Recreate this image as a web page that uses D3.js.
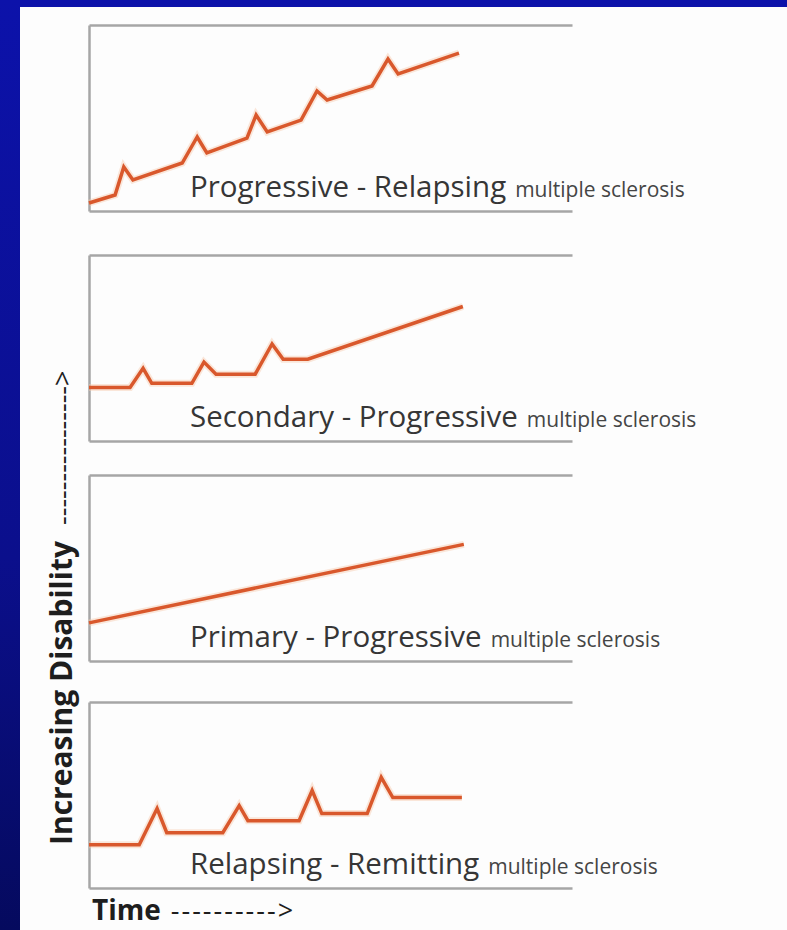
<!DOCTYPE html>
<html>
<head>
<meta charset="utf-8">
<script src="https://cdn.jsdelivr.net/npm/d3@7"></script>
<style>
  html, body { margin: 0; padding: 0; background: #0a10a0; }
  svg { display: block; }
</style>
</head>
<body>
<div id="chart"></div>
<script>
// course names, top to bottom
const courseNames = ["Progressive - Relapsing", "Secondary - Progressive", "Primary - Progressive", "Relapsing - Remitting"];
const courseSub = "multiple sclerosis";

// time (0-100) and disability (0-100)
const timePR = [0, 5.4, 7.2, 9.1, 19.3, 22.4, 24.4, 32.7, 34.6, 36.9, 43.9, 47.2, 49.3, 58.6, 61.9, 64.0, 76.6];
const disPR  = [4.3, 8.6, 23.7, 16.7, 25.8, 39.8, 31.2, 39.2, 51.6, 42.5, 48.9, 64.5, 59.7, 67.2, 81.7, 73.7, 84.9];

const timeSP = [0, 8.5, 11.2, 13.0, 21.3, 23.8, 26.3, 34.4, 37.9, 40.2, 45.3, 77.4];
const disSP  = [28.8, 28.8, 39.1, 31.0, 31.0, 42.4, 35.9, 35.9, 52.2, 44.0, 44.0, 72.3];

const timePP = [0, 77.6];
const disPP  = [20.5, 62.7];

const timeRR = [0, 10.4, 14.1, 16.1, 27.7, 31.1, 32.9, 43.5, 46.2, 48.2, 57.6, 60.5, 62.9, 77.2];
const disRR  = [23.2, 23.2, 42.7, 29.7, 29.7, 44.3, 36.2, 36.2, 52.4, 40.0, 40.0, 59.5, 48.6, 48.6];

const seriesTimes = [timePR, timeSP, timePP, timeRR];
const seriesDis = [disPR, disSP, disPP, disRR];

const yLabel = "Increasing Disability";
const yArrow = "---------------->";
const xLabel = "Time";
const xArrow = "---------->";

(function() {
  const width = 787, height = 930;
  const panelTops = [25, 255, 475, 702];
  const panelH = 186;
  const left = 89, right = 572;

  const svg = d3.select("#chart").append("svg")
    .attr("width", width)
    .attr("height", height);

  const defs = svg.append("defs");
  const grad = defs.append("linearGradient")
    .attr("id", "bg").attr("x1", 0).attr("y1", 0).attr("x2", 0).attr("y2", 1);
  grad.append("stop").attr("offset", "0%").attr("stop-color", "#0c12aa");
  grad.append("stop").attr("offset", "60%").attr("stop-color", "#0b0f8c");
  grad.append("stop").attr("offset", "100%").attr("stop-color", "#050a5e");

  svg.append("rect").attr("width", width).attr("height", height).attr("fill", "url(#bg)");
  svg.append("rect").attr("x", 20).attr("y", 7).attr("width", width - 20).attr("height", height - 7).attr("fill", "#fdfdfd");

  const x = d3.scaleLinear().domain([0, 100]).range([left, right]);

  courseNames.forEach((name, i) => {
    const top = panelTops[i];
    const y = d3.scaleLinear().domain([0, 100]).range([top + panelH, top]);
    const g = svg.append("g");

    // frame: top, bottom and left lines
    const frameStyle = sel => sel.call(s => s.select(".domain").attr("stroke", "#a6a6a6").attr("stroke-width", 2.5))
      .call(s => s.selectAll(".tick").remove());
    g.append("g").attr("transform", `translate(0,${y(100)})`)
      .call(d3.axisTop(x).ticks(0).tickSizeOuter(0)).call(frameStyle);
    g.append("g").attr("transform", `translate(0,${y(0)})`)
      .call(d3.axisBottom(x).ticks(0).tickSizeOuter(0)).call(frameStyle);
    g.append("g").attr("transform", `translate(${left},0)`)
      .call(d3.axisLeft(y).ticks(0).tickSizeOuter(0)).call(frameStyle);

    const pts = seriesTimes[i].map((t, k) => [t, seriesDis[i][k]]);
    const line = d3.line().x(d => x(d[0])).y(d => y(d[1]));

    g.append("path").datum(pts)
      .attr("d", line)
      .attr("fill", "none")
      .attr("stroke", "#f6c9ad")
      .attr("stroke-width", 7)
      .attr("stroke-linejoin", "miter")
      .attr("opacity", 0.45);
    g.append("path").datum(pts)
      .attr("d", line)
      .attr("fill", "none")
      .attr("stroke", "#d9582c")
      .attr("stroke-width", 3.5)
      .attr("stroke-linejoin", "miter");

    const label = g.append("text")
      .attr("x", 190)
      .attr("y", y(0) - 14)
      .attr("fill", "#363636")
      .style("font-family", "'Open Sans', sans-serif");
    label.append("tspan").style("font-size", "29.5px").text(name);
    label.append("tspan").attr("dx", 9).style("font-size", "21px").attr("fill", "#454545").text(courseSub);
  });

  // y axis title, rotated
  const yt = svg.append("text")
    .attr("transform", "translate(72,845) rotate(-90)")
    .attr("fill", "#1e1e1e")
    .style("font-family", "'Open Sans', sans-serif")
    .style("font-weight", "bold")
    .style("font-size", "30px");
  yt.append("tspan").text(yLabel);
  yt.append("tspan").attr("dx", 16).style("font-weight", "normal").style("font-size", "27px").text(yArrow);

  const xt = svg.append("text")
    .attr("x", 92).attr("y", 920)
    .attr("fill", "#1e1e1e")
    .style("font-family", "'Open Sans', sans-serif")
    .style("font-weight", "bold")
    .style("font-size", "28px");
  xt.append("tspan").text(xLabel);
  xt.append("tspan").attr("dx", 10).style("font-weight", "normal").style("font-size", "27px")
    .style("letter-spacing", "2px").text(xArrow);
})();
</script>
</body>
</html>
